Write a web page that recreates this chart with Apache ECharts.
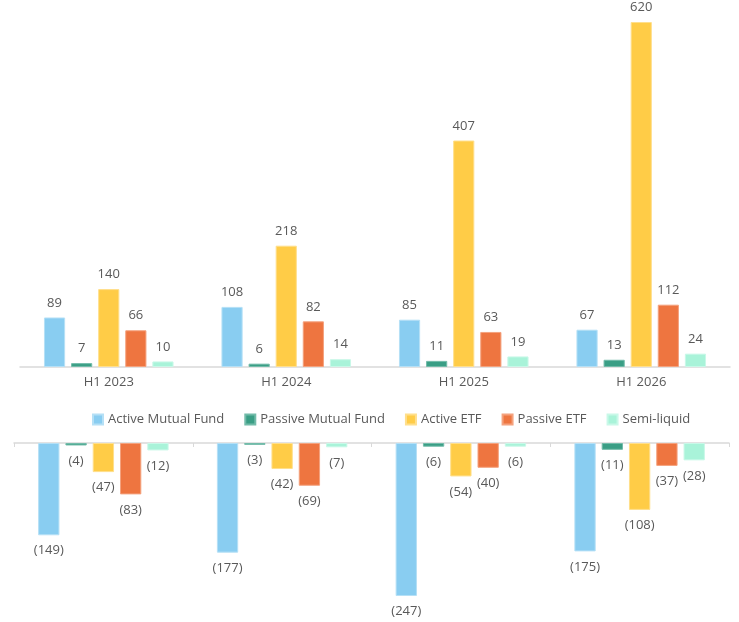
<!DOCTYPE html>
<html>
<head>
<meta charset="utf-8">
<script src="https://cdn.jsdelivr.net/npm/echarts@6/dist/echarts.min.js"></script>
<style>
  html, body { margin: 0; padding: 0; background: #fff; }
  #chart { width: 739px; height: 622px; }
</style>
</head>
<body>
<div id="chart"></div>
<script>
// categories and series
var periods = ['H1 2023', 'H1 2024', 'H1 2025', 'H1 2026'];
var seriesNames = ['Active Mutual Fund', 'Passive Mutual Fund', 'Active ETF', 'Passive ETF', 'Semi-liquid'];
var seriesColors = ['#89CDF1', '#3A9E85', '#FFCC47', '#EE7540', '#A9F3D9'];
var borderColors = ['#B5E0F6', '#72BBA9', '#FFDF8C', '#F4A27E', '#C9F8E8'];

// inflows (top panel)
var inActiveMF = [89, 108, 85, 67];
var inPassiveMF = [7, 6, 11, 13];
var inActiveETF = [140, 218, 407, 620];
var inPassiveETF = [66, 82, 63, 112];
var inSemiLiquid = [10, 14, 19, 24];

// outflows (bottom panel)
var outActiveMF = [-149, -177, -247, -175];
var outPassiveMF = [-4, -3, -6, -11];
var outActiveETF = [-47, -42, -54, -108];
var outPassiveETF = [-83, -69, -40, -37];
var outSemiLiquid = [-12, -7, -6, -28];

var inflows = [inActiveMF, inPassiveMF, inActiveETF, inPassiveETF, inSemiLiquid];
var outflows = [outActiveMF, outPassiveMF, outActiveETF, outPassiveETF, outSemiLiquid];

var myChart = echarts.init(document.getElementById('chart'));

var series = [];
for (var i = 0; i < seriesNames.length; i++) {
  series.push({
    name: seriesNames[i],
    type: 'bar',
    xAxisIndex: 0,
    yAxisIndex: 0,
    barGap: '28%',
    barCategoryGap: '27%',
    itemStyle: { color: seriesColors[i], borderColor: borderColors[i], borderWidth: 1 },
    label: {
      show: true, position: 'top', distance: 8,
      color: '#595959', fontSize: 13, fontFamily: 'Open Sans'
    },
    data: inflows[i]
  });
  series.push({
    name: seriesNames[i],
    type: 'bar',
    xAxisIndex: 1,
    yAxisIndex: 1,
    barGap: '28%',
    barCategoryGap: '27%',
    itemStyle: { color: seriesColors[i], borderColor: borderColors[i], borderWidth: 1 },
    label: {
      show: true, position: 'bottom', distance: 9,
      color: '#595959', fontSize: 13, fontFamily: 'Open Sans',
      formatter: function (p) { return '(' + Math.abs(p.value) + ')'; }
    },
    data: outflows[i]
  });
}

var option = {
  animation: false,
  textStyle: { fontFamily: 'Open Sans' },
  legend: {
    data: seriesNames,
    left: 87,
    top: 408,
    itemWidth: 10,
    itemHeight: 10,
    itemGap: 20,
    icon: 'rect',
    textStyle: { color: '#595959', fontSize: 13, fontFamily: 'Open Sans' }
  },
  grid: [
    { left: 20, right: 9, top: 22, height: 345 },
    { left: 14, right: 10, top: 443, height: 153 }
  ],
  xAxis: [
    {
      type: 'category', gridIndex: 0, data: periods,
      axisLine: { lineStyle: { color: '#D9D9D9', width: 1.5 } },
      axisTick: { show: false },
      axisLabel: { color: '#595959', fontSize: 13, margin: 9 }
    },
    {
      type: 'category', gridIndex: 1, data: periods,
      axisLine: { lineStyle: { color: '#D9D9D9', width: 1.5 } },
      axisTick: { show: true, length: 4, lineStyle: { color: '#D9D9D9' } },
      axisLabel: { show: false }
    }
  ],
  yAxis: [
    { type: 'value', gridIndex: 0, min: 0, max: 620, show: false, splitLine: { show: false } },
    { type: 'value', gridIndex: 1, min: -247, max: 0, show: false, splitLine: { show: false } }
  ],
  series: series
};
myChart.setOption(option);
</script>
</body>
</html>
